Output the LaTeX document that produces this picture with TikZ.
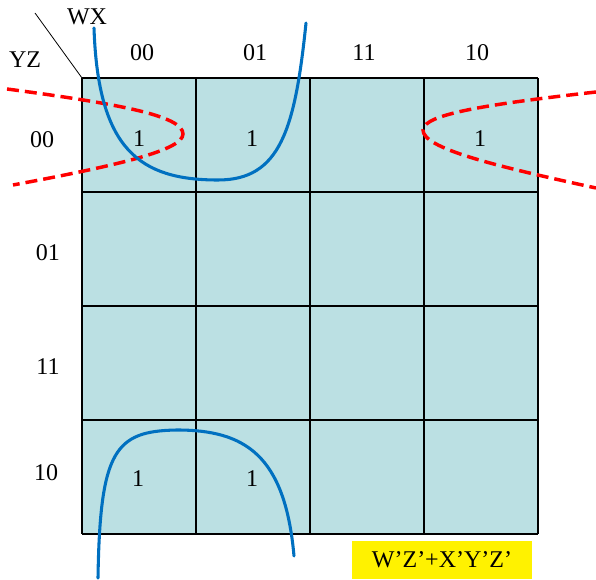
\documentclass[tikz,border=0pt]{standalone}
\usepackage{fontspec}
\setmainfont{Liberation Serif}
\definecolor{mapfill}{HTML}{BBE0E3}
\definecolor{loopblue}{HTML}{0070C0}
\definecolor{loopred}{HTML}{FF0000}
\tikzset{
  lbl/.style={font=\fontsize{18}{21}\selectfont, inner sep=0pt},
  blueloop/.style={loopblue, line width=2.3pt, line cap=round},
  redloop/.style={loopred, line width=2.6pt, dash pattern=on 9pt off 4.5pt}
}
\begin{document}
\begin{tikzpicture}[x=0.75pt,y=-0.75pt]
        \useasboundingbox (0,0) rectangle (596,580);
        % Draw map cells
        \fill[mapfill] (82,78) rectangle (538,534);
        \foreach \i in {0,...,4} {
            \draw[line width=0.9pt] (82+114*\i,78) -- (82+114*\i,534);
            \draw[line width=0.9pt] (82,78+114*\i) -- (538,78+114*\i);
        }
        % Draw corner divider and variable names
        \draw[line width=0.6pt] (35,13) -- (82,78);
        \node[lbl] (wx) at (87,17) {WX};
        \node[lbl] (yz) at (25,60) {YZ};
        % Draw column labels
        \node[lbl] (c00) at (142,53) {00};
        \node[lbl] (c01) at (255,53) {01};
        \node[lbl] (c11) at (364,53) {11};
        \node[lbl] (c10) at (477,53) {10};
        % Draw row labels
        \node[lbl] (r00) at (42,140) {00};
        \node[lbl] (r01) at (48,253) {01};
        \node[lbl] (r11) at (48,367) {11};
        \node[lbl] (r10) at (46,473) {10};
        % Draw minterms
        \node[lbl] (m0) at (139,139) {1};
        \node[lbl] (m4) at (252,139) {1};
        \node[lbl] (m8) at (480,139) {1};
        \node[lbl] (m2) at (138,479) {1};
        \node[lbl] (m6) at (252,479) {1};
        % Draw red wrap-around group
        \draw[redloop] (7,89) .. controls (120,104) and (183,116) .. (183,134)
            .. controls (183,150) and (120,165) .. (13,185);
        \draw[redloop] (596,92) .. controls (490,104) and (423,114) .. (423,130)
            .. controls (423,148) and (490,165) .. (596,188);
        % Draw blue groups
        \draw[blueloop] (94,28) .. controls (98,150) and (140,180) .. (218,180)
            .. controls (280,180) and (295,130) .. (306,23);
        \draw[blueloop] (98,578) .. controls (100,450) and (115,431) .. (177,430)
            .. controls (245,430) and (285,455) .. (294,556);
        % Draw result
        \fill[yellow] (352,541) rectangle (532,579);
        \node[lbl] (expr) at (442,560) {W’Z’+X’Y’Z’};
\end{tikzpicture}
\end{document}
